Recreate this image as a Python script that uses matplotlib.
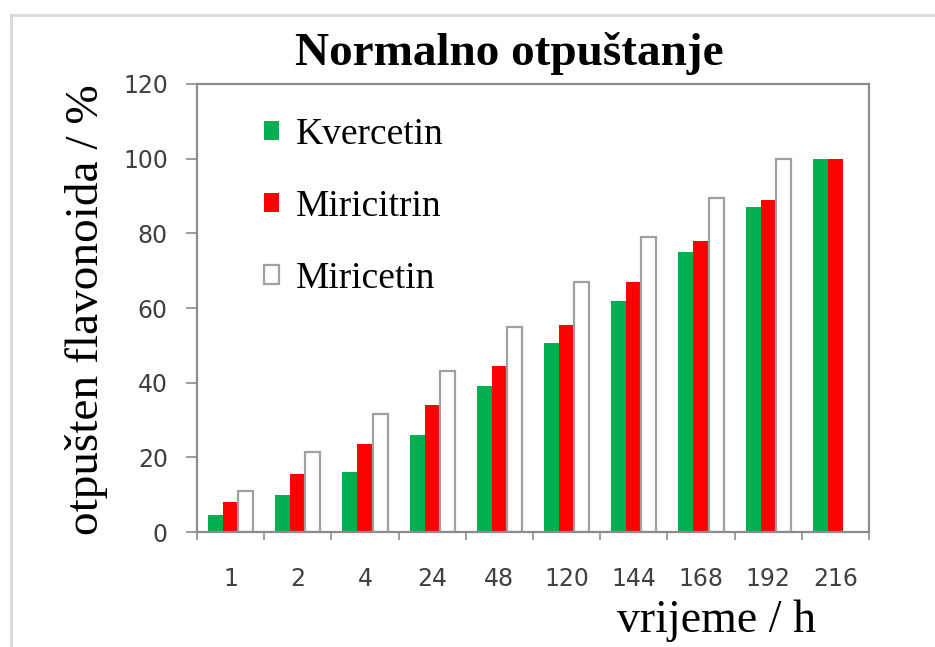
import matplotlib
matplotlib.use('Agg')
import matplotlib.pyplot as plt
from matplotlib.patches import Patch
from matplotlib.lines import Line2D
import numpy as np

# data
times = ['1', '2', '4', '24', '48', '120', '144', '168', '192', '216']
kvercetin = [4.5, 10, 16, 26, 39, 50.5, 62, 75, 87, 100]
miricitrin = [8, 15.5, 23.5, 34, 44.5, 55.5, 67, 78, 89, 100]
miricetin = [11, 21.5, 31.5, 43, 55, 67, 79, 89.5, 100, np.nan]

serif = ['Liberation Serif', 'DejaVu Serif']
grey = '#8c8c8c'

fig = plt.figure(figsize=(9.35, 6.47), dpi=100)
ax = fig.add_axes([0.2107, 0.1777, 0.7187, 0.6925])

x = np.arange(len(times))
w = 0.225
ax.bar(x - w, kvercetin, w, color='#00b050', label='Kvercetin')
ax.bar(x, miricitrin, w, color='#ff0000', label='Miricitrin')
ax.bar(x + w, miricetin, w, facecolor='white', edgecolor='#a0a0a0', lw=1.6, label='Miricetin')

ax.set_xlim(-0.5, len(times) - 0.5)
ax.set_ylim(0, 120)
ax.set_yticks(range(0, 121, 20))

# labels in the middle of each group, ticks between groups
ax.set_xticks(x)
ax.set_xticklabels(times)
ax.set_xticks(np.arange(-0.5, len(times)), minor=True)
ax.tick_params(axis='x', which='major', length=0, pad=25)
ax.tick_params(axis='x', which='minor', length=6, color=grey, width=1.2)
ax.tick_params(axis='y', length=8, color=grey, width=1.2, pad=13)
for lab in ax.get_xticklabels() + ax.get_yticklabels():
    lab.set_fontsize(17)
    lab.set_color('#404040')

for s in ax.spines.values():
    s.set_color(grey)
    s.set_linewidth(1.6)

handles = [Patch(facecolor='#00b050', edgecolor='none'),
           Patch(facecolor='#ff0000', edgecolor='none'),
           Patch(facecolor='white', edgecolor='#a0a0a0', lw=1.6)]
ax.legend(handles, ['Kvercetin', 'Miricitrin', 'Miricetin'],
          loc='upper left', bbox_to_anchor=(0.05, 1.0), frameon=False,
          prop={'family': serif, 'size': 27},
          handlelength=0.4, handleheight=0.4, handletextpad=0.45,
          labelspacing=1.0)

fig.text(0.545, 0.918, 'Normalno otpuštanje', ha='center', va='center',
         fontsize=34, fontweight='bold', family=serif)
fig.text(0.092, 0.521, 'otpušten flavonoida / %', ha='center', va='center',
         rotation=90, fontsize=34, family=serif)
fig.text(0.766, 0.04, 'vrijeme / h', ha='center', va='center',
         fontsize=33, family=serif)

# light frame around the picture (top and left edges)
fig.add_artist(Line2D([0.0118, 1], [0.977, 0.977], color='#d9d9d9', lw=2))
fig.add_artist(Line2D([0.0118, 0.0118], [0, 0.977], color='#d9d9d9', lw=2))

fig.savefig('out.png', dpi=100)
